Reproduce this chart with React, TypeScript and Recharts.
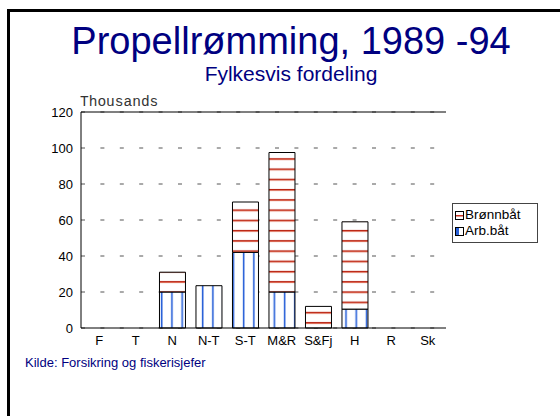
import React from "react";
import {
  BarChart,
  Bar,
  XAxis,
  YAxis,
  CartesianGrid,
  Legend,
  ReferenceLine,
} from "recharts";

const categories = ["F", "T", "N", "N-T", "S-T", "M&R", "S&Fj", "H", "R", "Sk"];
const arbBat = [null, null, 20, 23.5, 42, 20, 0, 10.5, null, null];
const bronnbat = [null, null, 11, 0, 28, 77.5, 12, 48.5, null, null];
const yTicks = [0, 20, 40, 60, 80, 100, 120];

const data = categories.map((name, i) => ({
  name,
  arb: arbBat[i],
  bronn: bronnbat[i],
}));

const FONT = "Arial, 'Liberation Sans', sans-serif";
const NAVY = "#000080";

const Patterns = () => (
  <svg width="0" height="0" style={{ position: "absolute" }}>
    <defs>
      <pattern id="arbFill" patternUnits="userSpaceOnUse" x="0" y="0" width="10.24" height="10">
        <rect width="10.24" height="10" fill="#fff" />
        <rect x="7.3" y="0" width="1.6" height="10" fill="#2860d8" />
      </pattern>
      <pattern id="bronnFill" patternUnits="userSpaceOnUse" x="0" y="0" width="10" height="10.24">
        <rect width="10" height="10.24" fill="#fff" />
        <rect x="0" y="4.6" width="10" height="1" fill="#b8200f" />
        <rect x="0" y="5.6" width="10" height="1" fill="#dc6a55" />
      </pattern>
    </defs>
  </svg>
);

const LegendBox = (props: any) => {
  const items = [...(props.payload || [])].reverse();
  return (
    <div
      style={{
        border: "1px solid #444",
        background: "#fff",
        padding: "3px 2px",
        fontFamily: FONT,
        fontSize: 13.5,
        lineHeight: "16px",
        color: "#000",
      }}
    >
      {items.map((it: any) => (
        <div key={it.value} style={{ display: "flex", alignItems: "center" }}>
          <svg width="9" height="9" style={{ marginRight: 1 }}>
            <rect x="0.5" y="0.5" width="8" height="8" fill="#fff" stroke="#000" />
            {it.dataKey === "bronn" ? (
              <rect x="1" y="4" width="7" height="1.5" fill="#c8321f" />
            ) : (
              <rect x="1" y="1" width="3" height="7" fill="#2860d8" />
            )}
          </svg>
          <span>{it.value}</span>
        </div>
      ))}
    </div>
  );
};

export default function App() {
  return (
    <div
      style={{
        position: "absolute",
        left: 0,
        top: 0,
        width: 560,
        height: 416,
        overflow: "hidden",
        background: "#fff",
      }}
    >
      <Patterns />
      <div
        style={{
          position: "absolute",
          left: 7,
          top: 9,
          width: 600,
          height: 500,
          borderTop: "3px solid #000",
          borderLeft: "3px solid #000",
        }}
      />
      <div
        style={{
          position: "absolute",
          left: 0,
          width: 582,
          top: 22,
          textAlign: "center",
          fontFamily: FONT,
          fontSize: 38,
          lineHeight: "38px",
          color: NAVY,
          whiteSpace: "nowrap",
        }}
      >
        Propellrømming, 1989 -94
      </div>
      <div
        style={{
          position: "absolute",
          left: 0,
          width: 582,
          top: 63,
          textAlign: "center",
          fontFamily: FONT,
          fontSize: 21,
          lineHeight: "21px",
          color: NAVY,
        }}
      >
        Fylkesvis fordeling
      </div>
      <div
        style={{
          position: "absolute",
          left: 80,
          top: 95,
          fontFamily: "'Courier New', 'Liberation Mono', monospace",
          fontSize: 14.5,
          lineHeight: "14px",
          color: "#333",
        }}
      >
        Thousands
      </div>
      <div
        style={{
          position: "absolute",
          left: 25,
          top: 356,
          fontFamily: FONT,
          fontSize: 13,
          lineHeight: "14px",
          color: NAVY,
        }}
      >
        Kilde: Forsikring og fiskerisjefer
      </div>
      <div style={{ position: "absolute", left: 0, top: 0 }}>
        <BarChart
          width={560}
          height={416}
          data={data}
          barCategoryGap="15%"
          margin={{ top: 112, right: 114, bottom: 58, left: 41 }}
        >
          <CartesianGrid
            vertical={false}
            stroke="#555"
            strokeDasharray="4 15.4"
          />
          <XAxis
            dataKey="name"
            height={30}
            axisLine={{ stroke: "#000" }}
            tickLine={false}
            interval={0}
            tick={{ fill: "#000", fontSize: 13, fontFamily: FONT }}
          />
          <YAxis
            width={40}
            domain={[0, 120]}
            ticks={yTicks}
            axisLine={{ stroke: "#000" }}
            tickLine={false}
            tick={{ fill: "#000", fontSize: 13, fontFamily: FONT }}
          />
          <YAxis
            yAxisId="right"
            orientation="right"
            width={0}
            domain={[0, 120]}
            axisLine={{ stroke: "#000" }}
            tickLine={false}
            tick={false}
          />
          <ReferenceLine y={120} stroke="#000" />
          <Bar
            dataKey="arb"
            name="Arb.båt"
            stackId="a"
            fill="url(#arbFill)"
            stroke="#000"
            strokeWidth={1}
            isAnimationActive={false}
          />
          <Bar
            dataKey="bronn"
            name="Brønnbåt"
            stackId="a"
            fill="url(#bronnFill)"
            stroke="#000"
            strokeWidth={1}
            isAnimationActive={false}
          />
          <Legend
            layout="vertical"
            align="center"
            verticalAlign="middle"
            content={<LegendBox />}
            wrapperStyle={{ left: 452, top: 203, width: 86 }}
          />
        </BarChart>
      </div>
    </div>
  );
}
